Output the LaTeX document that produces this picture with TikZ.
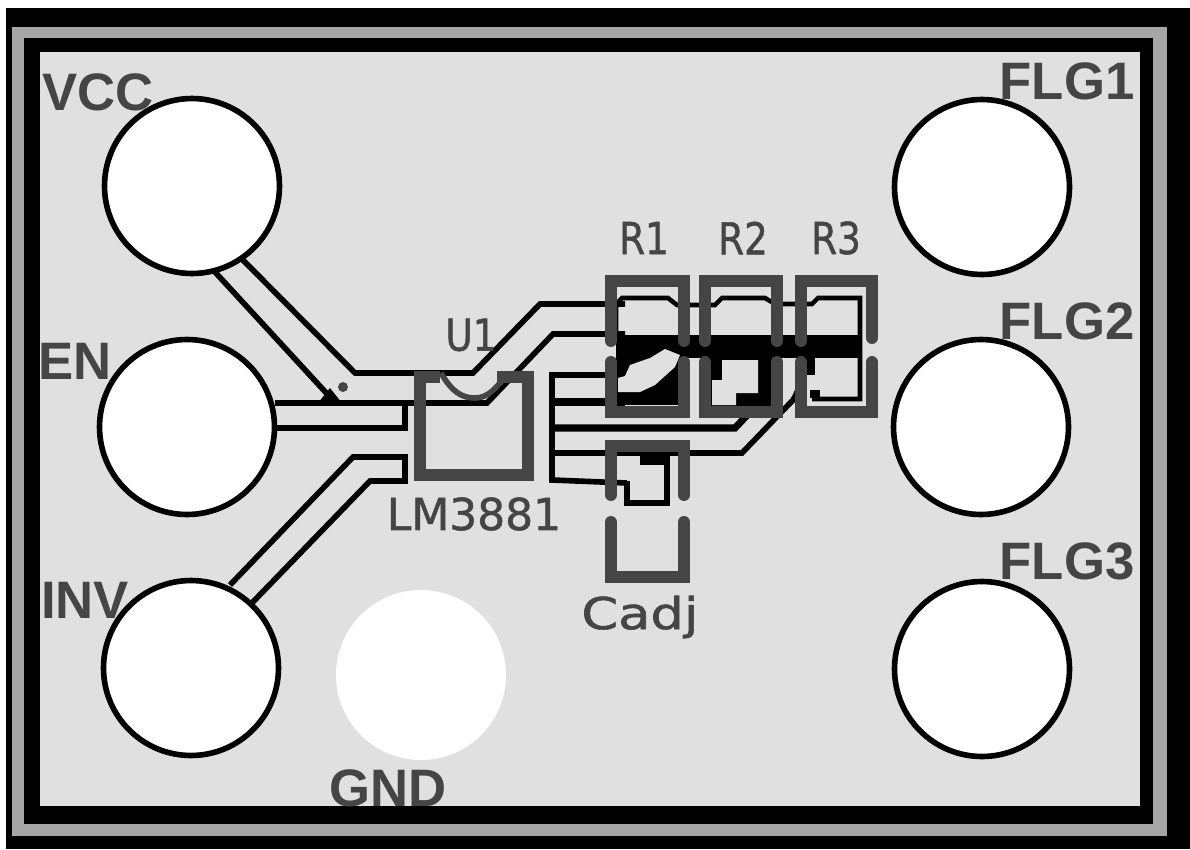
\documentclass[tikz,border=0pt]{standalone}
\usepackage{fontspec}
\setmainfont{Liberation Sans}
\newfontfamily\partfont[FakeBold=1.2]{DejaVu Sans}
\usepackage[HTML]{xcolor}
\usepackage{tikz}
\definecolor{boardgray}{HTML}{E0E0E0}
\definecolor{bandgray}{HTML}{A6A6A6}
\definecolor{silkgray}{HTML}{454545}
\tikzset{
  pin/.style={circle, draw=black, fill=white, line width=3.2pt, minimum size=3.5cm, inner sep=0pt},
  trace/.style={draw=black, line width=3.2pt, line join=miter},
  silk/.style={draw=silkgray, line width=6.8pt, line cap=round, line join=miter},
  padblack/.style={fill=black},
  padlight/.style={fill=boardgray},
  pinlabel/.style={text=silkgray, font=\fontsize{30}{30}\selectfont\bfseries, inner sep=0pt},
  partlabel/.style={text=silkgray, font=\partfont\fontsize{25}{25}\selectfont, inner sep=0pt}
}
\begin{document}
\begin{tikzpicture}[x=0.02cm, y=-0.02cm]
\useasboundingbox (0,0) rectangle (1190,849);
\fill[white] (0,0) rectangle (1190,849);
\fill[black] (6,8) rectangle (1190,849);
\fill[bandgray] (12,27) rectangle (1167,836);
\fill[black] (24,38) rectangle (1153,824);
\fill[boardgray] (40,52) rectangle (1140,806);

% traces from the pins to U1
\draw[trace] (238,255) -- (355,373) -- (473,373) -- (540,304) -- (625,304);
\draw[trace] (215,272) -- (330,397);
\draw[trace] (275,403) -- (487,403) -- (553,334) -- (625,334);
\draw[trace] (275,428) -- (405,428) -- (405,403);
\draw[trace] (230,585) -- (353,457) -- (405,457) -- (405,481) -- (370,481) -- (250,605);
\fill[black] (318,403) -- (330,388) -- (342,403) -- cycle;
\fill[silkgray] (343,387) circle (5);

% traces from U1 to the resistors
\draw[trace] (610,375) -- (552,375) -- (552,480) -- (627,483);
\draw[line width=4pt, black] (552,402) -- (625,402);
\draw[line width=4pt, black] (552,428) -- (735,428) -- (752,410);
\draw[trace] (552,453) -- (742,453) -- (793,400) .. controls (800,390) and (800,375) .. (808,362);

% copper under R1, R2, R3
\fill[padblack] (616,335) rectangle (858,358);
\draw[trace, line width=2.6pt] (616,335) -- (616,304) -- (622,298) -- (668,298) -- (677,305) -- (715,305) -- (722,298) -- (765,298) -- (775,304) -- (812,304) -- (818,298) -- (860,298) -- (860,399) -- (812,399);
\fill[padblack] (610,358) rectangle (685,405);
\fill[padlight] (618,392) -- (640,392) -- (655,385) -- (675,367) -- (680,355) -- (665,349) -- (650,358) -- (630,365) -- (625,376) -- (618,378) -- cycle;
\fill[padblack] (705,358) rectangle (772,410);
\fill[padlight] (722,360) -- (758,360) -- (758,393) -- (736,393) -- (736,405) -- (712,405) -- (712,380) -- (722,380) -- cycle;
\fill[padblack] (802,358) rectangle (815,375);
\fill[padblack] (810,390) rectangle (820,398);

% copper under Cadj
\fill[padblack] (640,453) rectangle (670,465);
\draw[trace] (667,460) -- (667,503) -- (627,503) -- (627,481);

% outlines of the parts
\draw[silk, line cap=butt] (440,377) -- (420,377) -- (420,475) -- (528,475) -- (528,377) -- (497,377);
\draw[silk, line width=3.2pt, line cap=butt] (441,373) .. controls (452,392) and (462,398) .. (475,398) .. controls (490,398) and (497,385) .. (506,377);
\draw[silk] (611,341) -- (611,281) -- (684,281) -- (684,341);
\draw[silk] (611,362) -- (611,412) -- (684,412) -- (684,362);
\draw[silk] (705,341) -- (705,281) -- (777,281) -- (777,341);
\draw[silk] (705,362) -- (705,412) -- (777,412) -- (777,362);
\draw[silk] (801,341) -- (801,281) -- (872,281) -- (872,338);
\draw[silk] (801,362) -- (801,412) -- (872,412) -- (872,362);
\draw[silk] (611,495) -- (611,446) -- (684,446) -- (684,495);
\draw[silk] (611,522) -- (611,577) -- (684,577) -- (684,522);

% pins
\node[pin] (vcc)  at (192,186) {};
\node[pin] (en)   at (187,427) {};
\node[pin] (inv)  at (191,668) {};
\node[pin] (flgone)   at (982,187) {};
\node[pin] (flgtwo)   at (981,427) {};
\node[pin] (flgthree) at (982,669) {};
\node[pin, draw=none, minimum size=3.4cm] (gnd) at (421,675) {};

% labels
\node[pinlabel] (vcclabel) at (98,92) {VCC};
\node[pinlabel] (enlabel)  at (75,361) {EN};
\node[pinlabel] (invlabel) at (85,600) {INV};
\node[pinlabel] (flgonelabel)   at (1067,81) {FLG1};
\node[pinlabel] (flgtwolabel)   at (1067,321) {FLG2};
\node[pinlabel] (flgthreelabel) at (1067,561) {FLG3};
\node[pinlabel] (gndlabel) at (388,788) {GND};
\node[partlabel, xscale=0.85] (uone) at (471,335) {U1};
\node[partlabel] (lm)   at (474,514) {LM3881};
\node[partlabel, xscale=0.85] (rone)   at (644,238) {R1};
\node[partlabel, xscale=0.85] (rtwo)   at (743,238) {R2};
\node[partlabel, xscale=0.85] (rthree) at (836,238) {R3};
\node[partlabel, xscale=1.2] (cadj) at (640,617) {Cadj};
\end{tikzpicture}
\end{document}
